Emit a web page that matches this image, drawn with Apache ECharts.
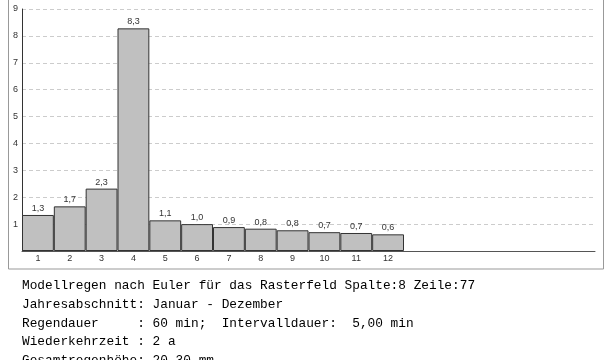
<!DOCTYPE html>
<html>
<head>
<meta charset="utf-8">
<script src="https://cdn.jsdelivr.net/npm/echarts@6/dist/echarts.min.js"></script>
<style>html,body{margin:0;padding:0;background:#fff;}#c{width:610px;height:360px;}</style>
</head>
<body>
<div id="c"></div>
<script>
const categories = ['1','2','3','4','5','6','7','8','9','10','11','12','','','','','',''];
const values = [1.34, 1.66, 2.32, 8.28, 1.14, 1.00, 0.89, 0.83, 0.77, 0.70, 0.67, 0.62];
const yTicks = [0, 1, 2, 3, 4, 5, 6, 7, 8, 9];
const infoLines = [
  'Modellregen nach Euler für das Rasterfeld Spalte:8 Zeile:77',
  'Jahresabschnitt: Januar - Dezember',
  'Regendauer     : 60 min;  Intervalldauer:  5,00 min',
  'Wiederkehrzeit : 2 a',
  'Gesamtregenhöhe: 20,30 mm'
];

const chart = echarts.init(document.getElementById('c'), null, {renderer: 'canvas'});
const textEls = infoLines.map((t, i) => ({
  type: 'text', left: 22, top: 279.5 + i * 18.7,
  style: {text: t, font: '12.8px "Liberation Mono", "Courier New", monospace', fill: '#000'}
}));
chart.setOption({
  animation: false,
  backgroundColor: '#fff',
  grid: {left: 22, right: 15, top: 9, bottom: 109, containLabel: false},
  xAxis: {
    type: 'category', data: categories,
    axisLine: {lineStyle: {color: '#555', width: 1}},
    axisTick: {show: false},
    axisLabel: {color: '#333', fontSize: 9, margin: 3, fontFamily: 'Arial, Liberation Sans', interval: 0},
    splitLine: {show: false}
  },
  yAxis: {
    type: 'value', min: yTicks[0], max: yTicks[yTicks.length - 1], interval: 1,
    axisLine: {show: true, lineStyle: {color: '#333', width: 1}},
    axisTick: {show: false},
    axisLabel: {color: '#333', fontSize: 9, margin: 4, fontFamily: 'Arial, Liberation Sans',
      formatter: v => v === 0 ? '' : String(v)},
    splitLine: {show: true, lineStyle: {color: '#ccc', type: [4, 3], width: 1}}
  },
  series: [{
    type: 'bar', data: values, barCategoryGap: 0, barGap: 0,
    itemStyle: {color: '#c0c0c0', borderColor: '#333', borderWidth: 1},
    label: {show: true, position: 'top', distance: 2, color: '#333', fontSize: 9,
      fontFamily: 'Arial, Liberation Sans',
      formatter: p => p.value.toFixed(1).replace('.', ',')}
  }],
  graphic: [
    {type: 'rect', shape: {x: 8.5, y: -5, width: 595, height: 274}, style: {fill: 'none', stroke: '#999', lineWidth: 1}, silent: true, z: -1}
  ].concat(textEls)
});
</script>
</body>
</html>
